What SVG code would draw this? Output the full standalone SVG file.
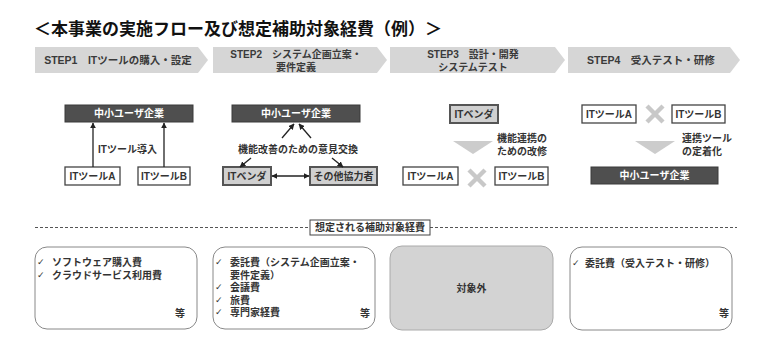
<svg xmlns="http://www.w3.org/2000/svg" width="768" height="347" viewBox="0 0 768 347">
<defs>
<style>
text{font-family:"Liberation Sans","Noto Sans CJK JP",sans-serif;font-weight:bold;fill:#333;}
.title{font-size:17px;fill:#111;}
.step{fill:#d6d6d6;}
.st{font-size:10.5px;text-anchor:middle;dominant-baseline:central;fill:#3a3a3a;}
.st2{font-size:10px;text-anchor:middle;dominant-baseline:central;fill:#3a3a3a;}
.wbox{fill:#fff;stroke:#444;stroke-width:1.3;}
.gbox{fill:#d0d0d0;stroke:#555;stroke-width:2;}
.dbox{fill:#4f4f4f;stroke:#3a3a3a;stroke-width:1;}
.nt{font-size:10px;text-anchor:middle;dominant-baseline:central;}
.wt{font-size:10px;text-anchor:middle;dominant-baseline:central;fill:#fff;}
.lbl{font-size:10px;dominant-baseline:central;}
.conn{stroke:#222;stroke-width:1.3;fill:none;}
.xm{stroke:#c8c8c8;stroke-width:4.5;stroke-linecap:butt;}
.tri{fill:#cccccc;}
.cbox{fill:#fff;stroke:#888;stroke-width:1;}
.cboxg{fill:#d3d3d3;stroke:#aaa;stroke-width:1;}
.bt{font-size:10px;dominant-baseline:central;}
.ck{font-size:9px;font-weight:normal;font-family:"DejaVu Sans",sans-serif;}
</style>
<marker id="ah" viewBox="0 0 10 10" refX="9" refY="5" markerWidth="6" markerHeight="6" orient="auto-start-reverse" markerUnits="userSpaceOnUse">
<path d="M0,0 L10,5 L0,10 z" fill="#222"/>
</marker>
</defs>
<rect width="768" height="347" fill="#fff"/>

<text class="title" x="34" y="35">＜本事業の実施フロー及び想定補助対象経費（例）＞</text>

<g id="step1">
<polygon class="step" points="35,47 198,47 208,60 198,73 35,73"/>
<text class="st" x="118" y="60">STEP1　ITツールの購入・設定</text>
</g>
<g id="step2">
<polygon class="step" points="213,47 377,47 387,60 377,73 213,73"/>
<text class="st2" x="296" y="54"><tspan x="296" y="54">STEP2　システム企画立案・</tspan><tspan x="296" y="66.5">要件定義</tspan></text>
</g>
<g id="step3">
<polygon class="step" points="390,47 555,47 565,60 555,73 390,73"/>
<text class="st2" x="473" y="54"><tspan x="473" y="54">STEP3　設計・開発</tspan><tspan x="473" y="66.5">システムテスト</tspan></text>
</g>
<g id="step4">
<polygon class="step" points="568,47 730,47 740,60 730,73 568,73"/>
<text class="st" x="651" y="60">STEP4　受入テスト・研修</text>
</g>

<!-- STEP1 diagram -->
<g id="s1-user">
<rect class="dbox" x="65" y="105" width="128" height="17"/>
<text class="wt" x="129" y="113.5">中小ユーザ企業</text>
</g>
<g id="s1-toolA">
<rect class="wbox" x="65" y="167" width="55" height="18"/>
<text class="nt" x="92.5" y="176">ITツールA</text>
</g>
<g id="s1-toolB">
<rect class="wbox" x="138" y="167" width="52" height="18"/>
<text class="nt" x="164" y="176">ITツールB</text>
</g>

<!-- STEP2 diagram -->
<g id="s2-user">
<rect class="dbox" x="232" y="105" width="128" height="17"/>
<text class="wt" x="296" y="113.5">中小ユーザ企業</text>
</g>
<g id="s2-vendor">
<rect class="gbox" x="223" y="167" width="48" height="18"/>
<text class="nt" x="247" y="176">ITベンダ</text>
</g>
<g id="s2-other">
<rect class="gbox" x="310" y="167" width="67" height="18"/>
<text class="nt" x="343.5" y="176">その他協力者</text>
</g>

<!-- STEP3 diagram -->
<g id="s3-vendor">
<rect class="gbox" x="450" y="105" width="48" height="18"/>
<text class="nt" x="474" y="114">ITベンダ</text>
</g>
<g id="s3-toolA">
<rect class="wbox" x="403" y="167" width="55" height="18"/>
<text class="nt" x="430.5" y="176">ITツールA</text>
</g>
<g id="s3-toolB">
<rect class="wbox" x="495" y="167" width="53" height="18"/>
<text class="nt" x="521.5" y="176">ITツールB</text>
</g>
<g id="s3-x">
<line class="xm" x1="469" y1="170" x2="485" y2="186"/>
<line class="xm" x1="485" y1="170" x2="469" y2="186"/>
</g>

<!-- STEP4 diagram -->
<g id="s4-toolA">
<rect class="wbox" x="582" y="105" width="54" height="18"/>
<text class="nt" x="609" y="114">ITツールA</text>
</g>
<g id="s4-toolB">
<rect class="wbox" x="672" y="105" width="53" height="18"/>
<text class="nt" x="698.5" y="114">ITツールB</text>
</g>
<g id="s4-x">
<line class="xm" x1="647" y1="106" x2="663" y2="122"/>
<line class="xm" x1="663" y1="106" x2="647" y2="122"/>
</g>
<g id="s4-user">
<rect class="dbox" x="591" y="167" width="127" height="17"/>
<text class="wt" x="654.5" y="175.5">中小ユーザ企業</text>
</g>

<g id="connectors">
<line class="conn" x1="93" y1="167" x2="93" y2="123" marker-end="url(#ah)"/>
<line class="conn" x1="164" y1="167" x2="164" y2="123" marker-end="url(#ah)"/>
<line class="conn" x1="282" y1="138" x2="294" y2="124" marker-end="url(#ah)"/>
<line class="conn" x1="311" y1="138" x2="299" y2="124" marker-end="url(#ah)"/>
<line class="conn" x1="251" y1="158" x2="240" y2="167" marker-end="url(#ah)"/>
<line class="conn" x1="332" y1="158" x2="343" y2="167" marker-end="url(#ah)"/>
<line class="conn" x1="272" y1="176" x2="309" y2="176" marker-start="url(#ah)" marker-end="url(#ah)"/>
<polygon class="tri" points="453,141 493,141 473,154"/>
<polygon class="tri" points="635,141 675,141 655,154"/>
</g>

<g id="labels">
<text class="lbl" x="98" y="149">ITツール導入</text>
<text class="lbl" x="238" y="149">機能改善のための意見交換</text>
<text class="lbl" x="497" y="137.5"><tspan x="497" y="137.5">機能連携の</tspan><tspan x="497" y="150.5">ための改修</tspan></text>
<text class="lbl" x="682" y="137.5"><tspan x="682" y="137.5">連携ツール</tspan><tspan x="682" y="150.5">の定着化</tspan></text>
</g>

<!-- Bottom section -->
<g id="divider">
<line x1="35" y1="227.5" x2="310" y2="227.5" stroke="#555" stroke-width="1" stroke-dasharray="3,2"/>
<line x1="430" y1="227.5" x2="737" y2="227.5" stroke="#555" stroke-width="1" stroke-dasharray="3,2"/>
<rect x="310" y="220" width="120" height="15" fill="#fff" stroke="#444" stroke-width="1"/>
<text class="nt" x="370" y="227.5">想定される補助対象経費</text>
</g>

<g id="cost1">
<rect class="cbox" x="35" y="247" width="162" height="82" rx="12"/>
<text class="bt" x="37" y="262"><tspan class="ck" x="37" y="262">✓</tspan><tspan x="52" y="262">ソフトウェア購入費</tspan><tspan class="ck" x="37" y="274.5">✓</tspan><tspan x="52" y="274.5">クラウドサービス利用費</tspan></text>
<text class="bt" x="175" y="313">等</text>
</g>
<g id="cost2">
<rect class="cbox" x="213" y="247" width="162" height="82" rx="12"/>
<text class="bt" x="215" y="262"><tspan class="ck" x="215" y="262">✓</tspan><tspan x="230" y="262">委託費（システム企画立案・</tspan><tspan x="230" y="274.5">要件定義）</tspan><tspan class="ck" x="215" y="287">✓</tspan><tspan x="230" y="287">会議費</tspan><tspan class="ck" x="215" y="299.5">✓</tspan><tspan x="230" y="299.5">旅費</tspan><tspan class="ck" x="215" y="312">✓</tspan><tspan x="230" y="312">専門家経費</tspan></text>
<text class="bt" x="360" y="313">等</text>
</g>
<g id="cost3">
<rect class="cboxg" x="390" y="246" width="163" height="84" rx="12"/>
<text class="bt" x="471.5" y="288" text-anchor="middle">対象外</text>
</g>
<g id="cost4">
<rect class="cbox" x="570" y="247" width="162" height="83" rx="12"/>
<text class="bt" x="572" y="263"><tspan class="ck" x="572" y="263">✓</tspan><tspan x="585" y="263">委託費（受入テスト・研修）</tspan></text>
<text class="bt" x="719" y="313">等</text>
</g>
</svg>
